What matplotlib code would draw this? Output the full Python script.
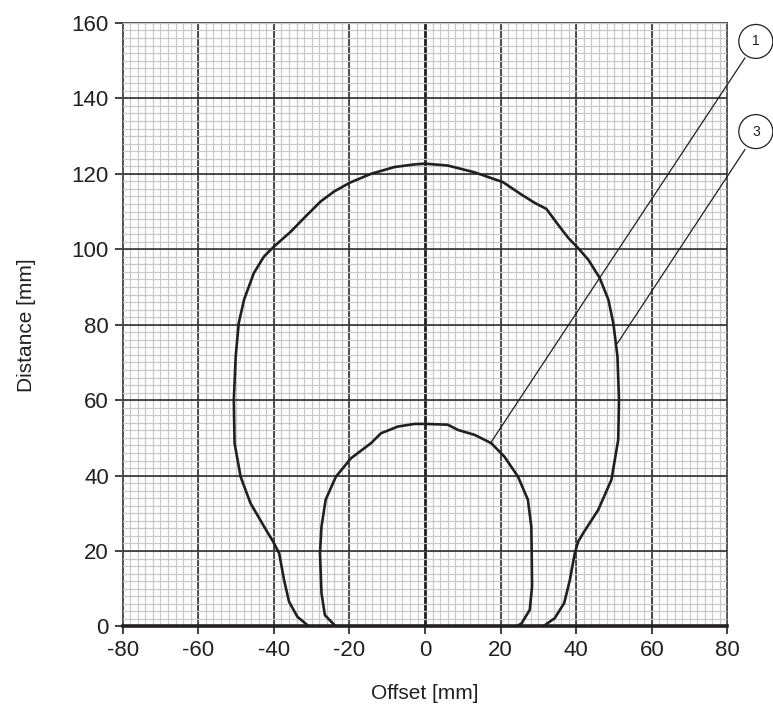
import numpy as np
import matplotlib
matplotlib.use("Agg")
import matplotlib.pyplot as plt
from matplotlib.patches import Circle

plt.rcParams['font.family'] = ['Liberation Sans', 'DejaVu Sans']
plt.rcParams['axes.unicode_minus'] = False

# curve 3 (outer)
outer_x = [-30.7, -33.8, -36.0, -37.3, -38.6, -40.2, -42.6, -46.2, -48.8, -50.4, -50.6, -50.1,
           -49.3, -47.9, -45.3, -42.6, -40.0, -35.5, -32.0, -27.6, -24.1, -19.8, -14.3, -8.1,
           -2.8, 0.0, 6.0, 13.1, 20.6, 25.5, 29.0, 32.1, 35.2, 37.9, 40.5, 43.2, 46.2, 48.5,
           49.8, 50.9, 51.3, 51.1, 49.3, 45.8, 41.8, 40.5, 39.6, 38.3, 36.8, 34.3, 31.2]
outer_y = [0.0, 2.6, 6.6, 12.3, 19.4, 22.5, 26.5, 32.7, 39.7, 48.6, 60.0, 71.6,
           80.4, 86.6, 93.7, 98.1, 100.7, 104.7, 108.3, 112.7, 115.3, 117.7, 120.0, 121.8,
           122.5, 122.7, 122.2, 120.4, 117.8, 114.5, 112.3, 110.7, 106.5, 103.0, 100.3, 97.2, 92.4, 86.6,
           80.4, 71.6, 60.1, 49.5, 38.9, 30.9, 24.7, 22.5, 19.4, 12.3, 6.2, 2.2, 0.0]

# curve 1 (inner)
inner_x = [-23.6, -26.5, -27.4, -27.8, -27.4, -26.3, -23.6, -19.6, -14.3, -11.7, -7.2, -2.8,
           0.0, 6.0, 8.7, 13.1, 17.5, 21.0, 24.6, 27.2, 28.1, 28.2, 28.3, 27.7, 25.5, 24.1]
inner_y = [0.0, 3.0, 8.8, 19.4, 26.5, 33.6, 39.7, 44.6, 48.6, 51.2, 53.0, 53.7,
           53.7, 53.5, 52.1, 50.8, 48.6, 45.0, 39.7, 33.6, 26.5, 20.0, 10.6, 4.4, 0.8, 0.0]

# callouts: label, circle centre, leader start, leader end (on curve)
callouts = [("1", (87.5, 155.1), (84.6, 150.7), (17.3, 48.6)),
            ("3", (87.5, 131.2), (84.6, 126.4), (50.9, 75.1))]

x_ticks = np.arange(-80, 81, 20)
y_ticks = np.arange(0, 161, 20)

fig = plt.figure(figsize=(7.73, 7.24), dpi=100)
ax = fig.add_axes([0.1587, 0.1347, 0.7824, 0.8336])
ax.set_xlim(-80, 80)
ax.set_ylim(0, 160)

grey = "#c8c8c8"
ink = "#231f20"
for v in np.arange(-80, 81, 2):
    ax.axvline(v, color=grey, lw=0.9, zorder=1)
for v in x_ticks[1:-1]:
    ax.axvline(v, color=ink, lw=2.0 if v == 0 else 1.1, zorder=2)
for v in np.arange(0, 161, 2):
    ax.axhline(v, color=grey, lw=0.9, zorder=3)
for v in y_ticks[1:-1]:
    ax.axhline(v, color=ink, lw=1.1, zorder=4)
ax.axhline(0, color=ink, lw=2.6, zorder=5, clip_on=False)

ax.plot(outer_x, outer_y, color=ink, lw=1.9, zorder=6, solid_joinstyle="round")
ax.plot(inner_x, inner_y, color=ink, lw=1.9, zorder=6, solid_joinstyle="round")

for label, c, p0, p1 in callouts:
    ax.plot([p0[0], p1[0]], [p0[1], p1[1]], color=ink, lw=0.9, zorder=7, clip_on=False)
    ax.add_patch(Circle(c, 4.5, facecolor="white", edgecolor=ink, lw=0.9, zorder=8, clip_on=False))
    ax.text(c[0], c[1], label, ha="center", va="center", fontsize=10, color=ink, zorder=9)

for s in ax.spines.values():
    s.set_color("#555555")
    s.set_linewidth(1.4)
ax.spines["bottom"].set_visible(False)

ax.set_xticks(x_ticks)
ax.set_yticks(y_ticks)
ax.tick_params(direction="out", length=6, width=1.2, color=ink, labelsize=16, labelcolor=ink, pad=4)
ax.set_xlabel("Offset [mm]", fontsize=15, color=ink)
ax.set_ylabel("Distance [mm]", fontsize=15, color=ink)
ax.xaxis.set_label_coords(0.5, -0.096)
ax.yaxis.set_label_coords(-0.144, 0.5)

fig.savefig("out.png", dpi=100)
